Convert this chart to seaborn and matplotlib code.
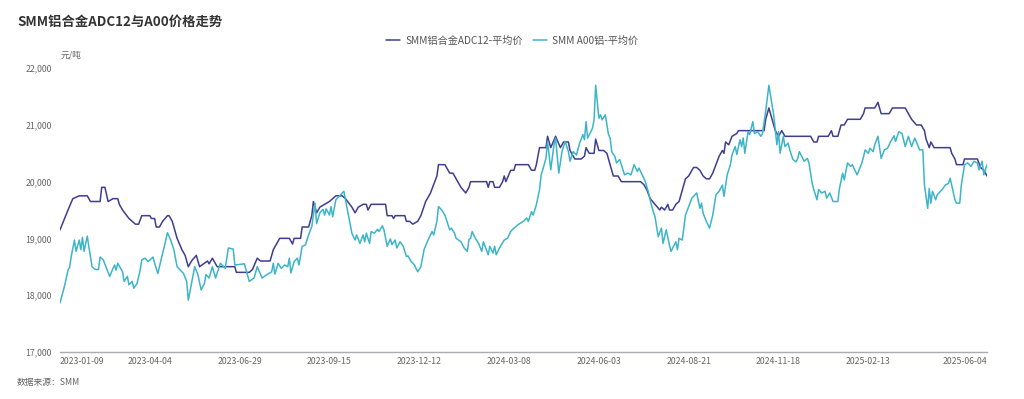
import numpy as np
import pandas as pd
import matplotlib
matplotlib.use("Agg")
import matplotlib.pyplot as plt
import seaborn as sns

TITLE = "SMM铝合金ADC12与A00价格走势"
NAME_ADC = "SMM铝合金ADC12-平均价"
NAME_A00 = "SMM A00铝-平均价"
COL_ADC = "#3f3d8f"
COL_A00 = "#3db5c8"

# weekdays with no quote (CN market holidays)
holidays = [
    "2023-01-23", "2023-01-24", "2023-01-25", "2023-01-26", "2023-01-27",
    "2023-04-05", "2023-05-01", "2023-05-02", "2023-05-03", "2023-06-22", "2023-06-23",
    "2023-09-29", "2023-10-02", "2023-10-03", "2023-10-04", "2023-10-05", "2023-10-06",
    "2024-01-01", "2024-02-09", "2024-02-12", "2024-02-13", "2024-02-14", "2024-02-15",
    "2024-02-16", "2024-04-04", "2024-04-05", "2024-05-01", "2024-05-02", "2024-05-03",
    "2024-06-10", "2024-09-16", "2024-09-17", "2024-10-01", "2024-10-02", "2024-10-03",
    "2024-10-04", "2024-10-07", "2025-01-01", "2025-01-28", "2025-01-29", "2025-01-30",
    "2025-01-31", "2025-02-03", "2025-02-04", "2025-04-04", "2025-05-01", "2025-05-02",
    "2025-05-05", "2025-06-02",
]

tick_dates = ["2023-01-09", "2023-04-04", "2023-06-29", "2023-09-15", "2023-12-12",
              "2024-03-08", "2024-06-03", "2024-08-21", "2024-11-18", "2025-02-13",
              "2025-06-04"]
y_ticks = [17000, 18000, 19000, 20000, 21000, 22000]

adc_date = [
    "2023-01-09", "2023-01-16", "2023-01-19", "2023-02-01", "2023-02-08", "2023-02-10",
    "2023-02-20", "2023-02-21", "2023-02-23", "2023-02-27", "2023-03-02", "2023-03-07",
    "2023-03-08", "2023-03-10", "2023-03-16", "2023-03-22", "2023-03-24", "2023-03-28",
    "2023-04-04", "2023-04-06", "2023-04-10", "2023-04-11", "2023-04-13", "2023-04-17",
    "2023-04-20", "2023-04-21", "2023-04-25", "2023-04-28", "2023-05-08", "2023-05-10",
    "2023-05-12", "2023-05-16", "2023-05-19", "2023-05-23", "2023-05-30", "2023-05-31",
    "2023-06-02", "2023-06-07", "2023-06-26", "2023-06-27", "2023-07-07", "2023-07-11",
    "2023-07-14", "2023-07-18", "2023-07-26", "2023-07-28", "2023-07-31", "2023-08-03",
    "2023-08-11", "2023-08-15", "2023-08-16", "2023-08-22", "2023-08-23", "2023-08-29",
    "2023-08-31", "2023-09-01", "2023-09-05", "2023-09-07", "2023-09-12", "2023-09-15",
    "2023-09-19", "2023-09-21", "2023-09-27", "2023-10-09", "2023-10-13", "2023-10-17",
    "2023-10-19", "2023-10-24", "2023-10-26", "2023-10-27", "2023-10-31", "2023-11-13",
    "2023-11-14", "2023-11-17", "2023-11-20", "2023-11-21", "2023-11-29", "2023-11-30",
    "2023-12-04", "2023-12-06", "2023-12-11", "2023-12-13", "2023-12-18", "2023-12-21",
    "2023-12-25", "2023-12-27", "2023-12-28", "2024-01-04", "2024-01-09", "2024-01-11",
    "2024-01-16", "2024-01-18", "2024-01-23", "2024-01-25", "2024-01-26", "2024-02-19",
    "2024-02-20", "2024-02-21", "2024-02-23", "2024-02-26", "2024-02-29", "2024-03-04",
    "2024-03-05", "2024-03-06", "2024-03-11", "2024-03-13", "2024-03-14", "2024-03-26",
    "2024-03-28", "2024-04-01", "2024-04-02", "2024-04-08", "2024-04-12", "2024-04-15",
    "2024-04-17", "2024-04-22", "2024-04-25", "2024-04-29", "2024-05-07", "2024-05-08",
    "2024-05-09", "2024-05-13", "2024-05-17", "2024-05-21", "2024-05-22", "2024-05-24",
    "2024-05-29", "2024-05-30", "2024-06-03", "2024-06-06", "2024-06-11", "2024-06-13",
    "2024-06-17", "2024-06-20", "2024-06-24", "2024-07-10", "2024-07-12", "2024-07-16",
    "2024-07-18", "2024-07-23", "2024-07-26", "2024-07-29", "2024-07-31", "2024-08-02",
    "2024-08-05", "2024-08-07", "2024-08-09", "2024-08-13", "2024-08-14", "2024-08-19",
    "2024-08-21", "2024-08-26", "2024-08-28", "2024-08-30", "2024-09-03", "2024-09-05",
    "2024-09-09", "2024-09-11", "2024-09-13", "2024-09-19", "2024-09-23", "2024-09-24",
    "2024-09-25", "2024-09-27", "2024-10-08", "2024-10-11", "2024-10-14", "2024-11-05",
    "2024-11-06", "2024-11-08", "2024-11-12", "2024-11-14", "2024-11-18", "2024-11-20",
    "2024-11-22", "2024-12-16", "2024-12-18", "2024-12-20", "2024-12-23", "2024-12-31",
    "2025-01-03", "2025-01-06", "2025-01-09", "2025-01-13", "2025-01-15", "2025-01-17",
    "2025-02-06", "2025-02-10", "2025-02-11", "2025-02-19", "2025-02-21", "2025-02-25",
    "2025-03-04", "2025-03-06", "2025-03-18", "2025-03-20", "2025-03-24", "2025-03-27",
    "2025-04-01", "2025-04-03", "2025-04-07", "2025-04-09", "2025-04-10", "2025-04-14",
    "2025-04-28", "2025-04-29", "2025-05-06", "2025-05-07", "2025-05-13", "2025-05-14",
    "2025-05-26", "2025-05-28", "2025-05-30", "2025-06-04",
]
adc_price = [
    19150, 19500, 19700, 19750, 19750, 19650, 19650, 19900, 19900, 19650, 19700, 19700,
    19600, 19500, 19350, 19250, 19250, 19400, 19400, 19350, 19350, 19200, 19200, 19300,
    19400, 19400, 19300, 19000, 18800, 18700, 18500, 18600, 18700, 18500, 18600, 18550,
    18650, 18500, 18500, 18400, 18400, 18450, 18650, 18600, 18600, 18800, 18850, 19000,
    19000, 18900, 19000, 19000, 19200, 19200, 19400, 19650, 19450, 19550, 19600, 19650,
    19700, 19750, 19750, 19700, 19550, 19450, 19550, 19600, 19600, 19500, 19600, 19600,
    19400, 19400, 19350, 19400, 19400, 19300, 19300, 19250, 19300, 19400, 19650, 19800,
    19950, 20100, 20300, 20300, 20150, 20150, 20000, 19900, 19800, 19900, 20000, 20000,
    19900, 20000, 20000, 19900, 19900, 20000, 20100, 20000, 20200, 20200, 20300, 20300,
    20200, 20200, 20300, 20600, 20600, 20800, 20600, 20800, 20600, 20700, 20700, 20550,
    20500, 20400, 20400, 20450, 20600, 20500, 20500, 20750, 20550, 20550, 20500, 20300,
    20100, 20100, 20000, 20000, 19950, 19850, 19700, 19600, 19500, 19550, 19500, 19600,
    19500, 19500, 19600, 19650, 19750, 20050, 20100, 20250, 20250, 20200, 20100, 20050,
    20050, 20150, 20300, 20450, 20550, 20500, 20700, 20650, 20800, 20850, 20900, 20900,
    21100, 21300, 21100, 20900, 20800, 20900, 20800, 20800, 20700, 20700, 20800, 20800,
    20900, 20800, 20800, 21000, 21000, 21100, 21100, 21200, 21300, 21300, 21400, 21200,
    21200, 21300, 21300, 21200, 21100, 21000, 21000, 20900, 20750, 20600, 20700, 20600,
    20600, 20500, 20400, 20300, 20300, 20400, 20400, 20250, 20200, 20100,
]

a00_date = [
    "2023-01-09", "2023-01-12", "2023-01-16", "2023-01-17", "2023-01-18", "2023-01-20",
    "2023-01-30", "2023-02-01", "2023-02-02", "2023-02-03", "2023-02-06", "2023-02-08",
    "2023-02-09", "2023-02-13", "2023-02-15", "2023-02-17", "2023-02-20", "2023-02-22",
    "2023-02-24", "2023-02-28", "2023-03-03", "2023-03-06", "2023-03-07", "2023-03-10",
    "2023-03-13", "2023-03-15", "2023-03-16", "2023-03-20", "2023-03-21", "2023-03-23",
    "2023-03-27", "2023-03-28", "2023-03-30", "2023-04-03", "2023-04-07", "2023-04-10",
    "2023-04-12", "2023-04-14", "2023-04-18", "2023-04-20", "2023-04-24", "2023-04-26",
    "2023-04-28", "2023-05-05", "2023-05-09", "2023-05-11", "2023-05-12", "2023-05-16",
    "2023-05-18", "2023-05-22", "2023-05-24", "2023-05-26", "2023-05-29", "2023-05-31",
    "2023-06-02", "2023-06-06", "2023-06-09", "2023-06-14", "2023-06-16", "2023-06-21",
    "2023-06-26", "2023-07-04", "2023-07-06", "2023-07-07", "2023-07-12", "2023-07-14",
    "2023-07-19", "2023-07-24", "2023-07-27", "2023-07-28", "2023-07-31", "2023-08-02",
    "2023-08-04", "2023-08-08", "2023-08-10", "2023-08-11", "2023-08-14", "2023-08-16",
    "2023-08-18", "2023-08-21", "2023-08-23", "2023-08-25", "2023-08-29", "2023-08-31",
    "2023-09-04", "2023-09-05", "2023-09-07", "2023-09-11", "2023-09-12", "2023-09-13",
    "2023-09-15", "2023-09-18", "2023-09-19", "2023-09-21", "2023-09-26", "2023-09-28",
    "2023-10-09", "2023-10-11", "2023-10-13", "2023-10-17", "2023-10-18", "2023-10-20",
    "2023-10-24", "2023-10-25", "2023-10-26", "2023-10-30", "2023-10-31", "2023-11-02",
    "2023-11-06", "2023-11-07", "2023-11-09", "2023-11-10", "2023-11-14", "2023-11-16",
    "2023-11-17", "2023-11-21", "2023-11-22", "2023-11-24", "2023-11-28", "2023-11-30",
    "2023-12-01", "2023-12-05", "2023-12-07", "2023-12-11", "2023-12-13", "2023-12-15",
    "2023-12-19", "2023-12-20", "2023-12-22", "2023-12-25", "2023-12-27", "2023-12-28",
    "2024-01-02", "2024-01-04", "2024-01-09", "2024-01-10", "2024-01-12", "2024-01-15",
    "2024-01-18", "2024-01-22", "2024-01-24", "2024-01-25", "2024-01-26", "2024-01-29",
    "2024-01-31", "2024-02-02", "2024-02-06", "2024-02-07", "2024-02-20", "2024-02-21",
    "2024-02-23", "2024-02-26", "2024-02-27", "2024-02-29", "2024-03-05", "2024-03-07",
    "2024-03-11", "2024-03-13", "2024-03-18", "2024-03-21", "2024-03-25", "2024-03-26",
    "2024-03-28", "2024-03-29", "2024-04-02", "2024-04-08", "2024-04-09", "2024-04-10",
    "2024-04-12", "2024-04-15", "2024-04-17", "2024-04-19", "2024-04-22", "2024-04-24",
    "2024-04-26", "2024-04-30", "2024-05-07", "2024-05-08", "2024-05-10", "2024-05-14",
    "2024-05-16", "2024-05-20", "2024-05-21", "2024-05-22", "2024-05-23", "2024-05-28",
    "2024-05-29", "2024-05-30", "2024-06-03", "2024-06-04", "2024-06-05", "2024-06-07",
    "2024-06-12", "2024-06-13", "2024-06-14", "2024-06-18", "2024-06-19", "2024-06-21",
    "2024-06-24", "2024-06-26", "2024-06-28", "2024-07-02", "2024-07-04", "2024-07-08",
    "2024-07-09", "2024-07-11", "2024-07-15", "2024-07-17", "2024-07-19", "2024-07-23",
    "2024-07-25", "2024-07-29", "2024-07-30", "2024-08-01", "2024-08-05", "2024-08-06",
    "2024-08-09", "2024-08-12", "2024-08-13", "2024-08-15", "2024-08-19", "2024-08-21",
    "2024-08-23", "2024-08-28", "2024-08-30", "2024-09-02", "2024-09-03", "2024-09-05",
    "2024-09-09", "2024-09-11", "2024-09-13", "2024-09-19", "2024-09-23", "2024-09-24",
    "2024-09-26", "2024-09-30", "2024-10-08", "2024-10-10", "2024-10-11", "2024-10-15",
    "2024-10-16", "2024-10-17", "2024-10-18", "2024-10-22", "2024-10-23", "2024-10-25",
    "2024-10-28", "2024-10-30", "2024-11-01", "2024-11-04", "2024-11-06", "2024-11-08",
    "2024-11-13", "2024-11-15", "2024-11-18", "2024-11-19", "2024-11-21", "2024-11-22",
    "2024-11-26", "2024-11-27", "2024-11-29", "2024-12-03", "2024-12-04", "2024-12-05",
    "2024-12-10", "2024-12-12", "2024-12-13", "2024-12-17", "2024-12-18", "2024-12-20",
    "2024-12-23", "2024-12-25", "2024-12-27", "2024-12-30", "2025-01-02", "2025-01-06",
    "2025-01-09", "2025-01-10", "2025-01-14", "2025-01-15", "2025-01-17", "2025-01-21",
    "2025-01-22", "2025-01-24", "2025-01-27", "2025-02-07", "2025-02-10", "2025-02-11",
    "2025-02-13", "2025-02-14", "2025-02-18", "2025-02-19", "2025-02-21", "2025-02-25",
    "2025-02-27", "2025-03-03", "2025-03-05", "2025-03-07", "2025-03-10", "2025-03-12",
    "2025-03-14", "2025-03-18", "2025-03-20", "2025-03-24", "2025-03-26", "2025-03-31",
    "2025-04-02", "2025-04-03", "2025-04-08", "2025-04-09", "2025-04-10", "2025-04-11",
    "2025-04-15", "2025-04-16", "2025-04-21", "2025-04-23", "2025-04-25", "2025-04-28",
    "2025-04-29", "2025-05-06", "2025-05-07", "2025-05-09", "2025-05-12", "2025-05-14",
    "2025-05-16", "2025-05-20", "2025-05-22", "2025-05-26", "2025-05-27", "2025-05-29",
    "2025-05-30", "2025-06-04",
]
a00_price = [
    17860, 18180, 18440, 18490, 18680, 18970, 18770, 18970, 18800, 19020, 18770, 19040,
    18850, 18500, 18450, 18450, 18670, 18620, 18470, 18330, 18530, 18440, 18560, 18410,
    18240, 18330, 18180, 18240, 18120, 18200, 18440, 18620, 18650, 18590, 18670, 18560,
    18380, 18620, 18850, 19100, 18970, 18800, 18500, 18440, 18380, 18240, 17910, 18200,
    18500, 18360, 18090, 18200, 18360, 18300, 18500, 18300, 18560, 18470, 18830, 18810,
    18530, 18550, 18340, 18240, 18300, 18500, 18300, 18360, 18410, 18560, 18370, 18560,
    18470, 18530, 18500, 18650, 18390, 18590, 18650, 18530, 18860, 18880, 19060, 19210,
    19620, 19260, 19450, 19510, 19410, 19520, 19410, 19560, 19380, 19680, 19770, 19830,
    19680, 19380, 19090, 18970, 19060, 18910, 19060, 18940, 19090, 18910, 19120, 19090,
    19160, 19120, 19220, 19150, 18860, 18990, 18890, 18970, 18830, 18940, 18860, 18680,
    18690, 18590, 18530, 18410, 18500, 18800, 18940, 19000, 19120, 19060, 19300, 19560,
    19500, 19410, 19150, 19180, 19090, 19000, 18940, 18830, 18770, 18980, 19000, 19120,
    19000, 18910, 18770, 18940, 18710, 18860, 18740, 18860, 18710, 18830, 18970, 19000,
    19120, 19180, 19250, 19300, 19360, 19300, 19470, 19410, 19590, 19860, 20120, 20210,
    20410, 20710, 20210, 20650, 20770, 20150, 20530, 20710, 20530, 20360, 20530, 20470,
    20680, 20830, 20740, 21060, 20770, 20940, 21090, 21700, 21120, 21180, 21090, 21180,
    20830, 20770, 20530, 20440, 20330, 20390, 20300, 20120, 20150, 20120, 20300, 20180,
    20240, 20120, 20000, 19800, 19560, 19380, 19030, 19180, 18910, 19150, 18880, 18770,
    18940, 18800, 19000, 18970, 19410, 19560, 19710, 19800, 19530, 19620, 19440, 19300,
    19180, 19410, 19770, 19830, 19940, 19740, 20120, 20300, 20470, 20620, 20480, 20740,
    20620, 20770, 20500, 20880, 20830, 21060, 20850, 20880, 20800, 20850, 21240, 21700,
    21180, 20650, 20880, 20500, 20800, 20620, 20680, 20560, 20390, 20350, 20410, 20530,
    20360, 20410, 20330, 19970, 19860, 19680, 19860, 19800, 19830, 19710, 19800, 19650,
    19650, 19880, 20150, 20030, 20330, 20270, 20300, 20180, 20120, 20330, 20440, 20560,
    20500, 20590, 20530, 20650, 20800, 20410, 20560, 20590, 20710, 20810, 20710, 20880,
    20850, 20620, 20800, 20620, 20770, 20560, 20560, 19940, 19530, 19880, 19620, 19830,
    19680, 19770, 19860, 19940, 19970, 20060, 19940, 19680, 19620, 19620, 19940, 20300,
    20330, 20270, 20360, 20330, 20210, 20360, 20120, 20300,
]

# category axis: one slot per quoted trading day
sessions = pd.bdate_range(tick_dates[0], tick_dates[-1])
sessions = sessions[~sessions.isin(pd.to_datetime(holidays))]


def to_pos(dates):
    return sessions.searchsorted(pd.to_datetime(dates))


df = pd.concat([
    pd.DataFrame({"pos": to_pos(adc_date), "price": adc_price, "series": NAME_ADC}),
    pd.DataFrame({"pos": to_pos(a00_date), "price": a00_price, "series": NAME_A00}),
], ignore_index=True)

sns.set_theme(style="white")
plt.rcParams["font.family"] = ["Noto Sans CJK SC", "DejaVu Sans"]

fig = plt.figure(figsize=(10.24, 3.99), dpi=100)
ax = fig.add_axes([60 / 1024, 47.3 / 399, 927 / 1024, 283.4 / 399])

sns.lineplot(data=df, x="pos", y="price", hue="series",
             palette={NAME_ADC: COL_ADC, NAME_A00: COL_A00},
             hue_order=[NAME_ADC, NAME_A00],
             estimator=None, sort=False, linewidth=1.1, ax=ax)

ax.set_xlim(0, len(sessions) - 1)
ax.set_ylim(y_ticks[0], y_ticks[-1])
ax.set_xlabel("")
ax.set_ylabel("")

ax.set_yticks(y_ticks)
ax.set_yticklabels([f"{v:,}" for v in y_ticks])
ax.set_xticks(to_pos(tick_dates))
ax.set_xticklabels(tick_dates)
xlabels = ax.get_xticklabels()
xlabels[0].set_ha("left")
xlabels[-1].set_ha("right")
ax.tick_params(axis="both", length=0, labelsize=6.3, colors="#666666")
ax.tick_params(axis="y", pad=6)
ax.tick_params(axis="x", pad=4)

for side in ["top", "right", "left"]:
    ax.spines[side].set_visible(False)
ax.spines["bottom"].set_color("#a9adb3")
ax.spines["bottom"].set_linewidth(1.0)
ax.grid(False)

handles, labels = ax.get_legend_handles_labels()
ax.get_legend().remove()
fig.legend(handles, labels, loc="center", bbox_to_anchor=(0.5, 1 - 40.7 / 399),
           ncol=2, frameon=False, fontsize=7.3, handlelength=1.4,
           handletextpad=0.5, columnspacing=1.0, labelcolor="#555555")

fig.text(17 / 1024, 1 - 21.5 / 399, TITLE, fontsize=9.6, fontweight="bold",
         color="#333333", ha="left", va="center")
fig.text(61 / 1024, 1 - 55 / 399, "元/吨", fontsize=6.3, color="#666666",
         ha="left", va="center")
fig.text(17 / 1024, 1 - 382 / 399, "数据来源：SMM", fontsize=6.3, color="#666666",
         ha="left", va="center")

fig.savefig("out.png", dpi=100)
